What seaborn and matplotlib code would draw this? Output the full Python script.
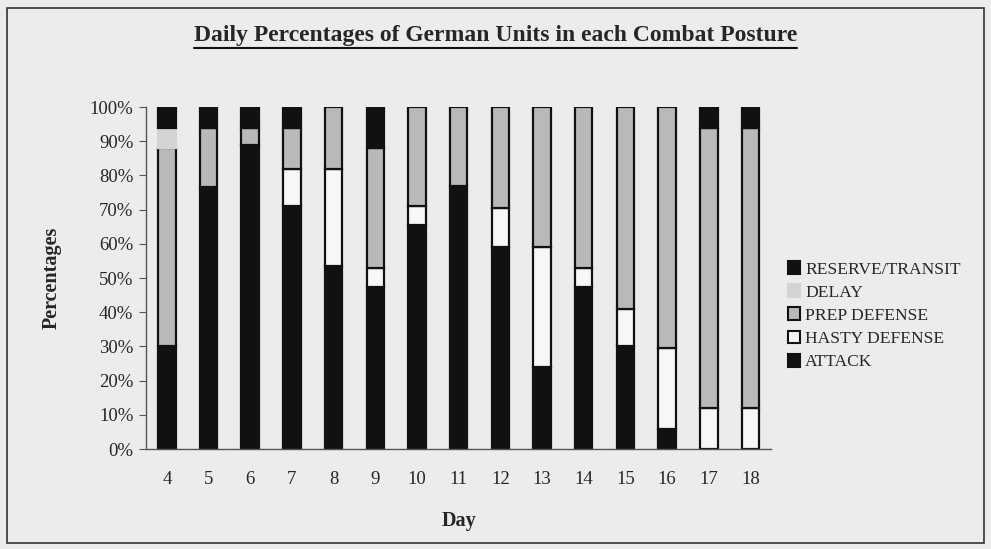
import numpy as np
import pandas as pd
import matplotlib
matplotlib.use('Agg')
import matplotlib.pyplot as plt
import matplotlib.patches as mpatches
from matplotlib.lines import Line2D
import seaborn as sns

# Data (percent of units per posture)
days = ['4', '5', '6', '7', '8', '9', '10', '11', '12', '13', '14', '15', '16', '17', '18']
attack = [30, 76.5, 89, 71, 53.5, 47.5, 65.5, 77, 59, 24, 47.5, 30, 6, 0, 0]
hasty_defense = [0, 0, 0, 11, 28.5, 5.5, 5.5, 0, 11.5, 35, 5.5, 11, 23.5, 12, 12]
prep_defense = [58, 17.5, 5, 12, 18, 35, 29, 23, 29.5, 41, 47, 59, 70.5, 82, 82]
delay = [6, 0, 0, 0, 0, 0, 0, 0, 0, 0, 0, 0, 0, 0, 0]
reserve_transit = [6, 6, 6, 6, 0, 12, 0, 0, 0, 0, 0, 0, 0, 6, 6]

layers = [
    ('ATTACK', attack, '#111111', '#111111'),
    ('HASTY DEFENSE', hasty_defense, '#f7f7f7', '#111111'),
    ('PREP DEFENSE', prep_defense, '#b9b9b9', '#111111'),
    ('DELAY', delay, '#d4d4d4', '#d4d4d4'),
    ('RESERVE/TRANSIT', reserve_transit, '#111111', '#111111'),
]

sns.set_style('white')
plt.rcParams['font.family'] = ['Liberation Serif', 'DejaVu Serif']

bg = '#ececec'
fig = plt.figure(figsize=(9.91, 5.49), dpi=100, facecolor=bg)
ax = fig.add_axes([0.1473, 0.182, 0.631, 0.623])
ax.set_facecolor(bg)

bottom = np.zeros(len(days))
for name, vals, fc, ec in layers:
    v = np.array(vals, dtype=float) / 100
    df = pd.DataFrame({'day': days, 'val': np.where(v > 0, v, np.nan), 'bottom': bottom})
    df = df.dropna()
    sns.barplot(data=df, x='day', y='val', order=days, bottom=df['bottom'].values,
                color=fc, edgecolor=ec, linewidth=1.6, width=0.42,
                saturation=1, ax=ax)
    bottom = bottom + v

ax.set_ylim(0, 1)
ax.set_xlim(-0.5, len(days) - 0.5)
ax.set_yticks(np.arange(0, 1.01, 0.1))
ax.set_yticklabels([f'{int(round(t * 100))}%' for t in np.arange(0, 1.01, 0.1)], fontsize=13.5)
ax.set_xticks(range(len(days)))
ax.set_xticklabels(days, fontsize=13.5)
ax.set_xticks(np.arange(-0.5, len(days), 1), minor=True)
ax.tick_params(axis='x', which='major', length=0, pad=16)
ax.tick_params(axis='x', which='minor', length=5, direction='in', color='#555555')
ax.tick_params(axis='y', length=5, direction='out', color='#555555', left=True, pad=4)
for s in ['top', 'right']:
    ax.spines[s].set_visible(False)
for s in ['left', 'bottom']:
    ax.spines[s].set_color('#555555')
    ax.spines[s].set_linewidth(1)

ax.set_xlabel('Day', fontsize=14.5, fontweight='bold', labelpad=16)
ax.set_ylabel('Percentages', fontsize=14.5, fontweight='bold', labelpad=20)

# title with underline
title = fig.text(0.5, 0.935, 'Daily Percentages of German Units in each Combat Posture',
                 ha='center', va='center', fontsize=17, fontweight='bold')
fig.canvas.draw()
bb = title.get_window_extent().transformed(fig.transFigure.inverted())
fig.add_artist(Line2D([bb.x0, bb.x1], [bb.y0 - 0.003, bb.y0 - 0.003],
                      transform=fig.transFigure, color='#111111', lw=1.5))

# legend
handles = [mpatches.Patch(facecolor=fc, edgecolor=ec, linewidth=1.5, label=name)
           for name, vals, fc, ec in layers[::-1]]
fig.legend(handles=handles, loc='center left', bbox_to_anchor=(0.779, 0.425),
           frameon=False, fontsize=12.6, handlelength=0.7, handleheight=0.75,
           handletextpad=0.3, labelspacing=0.38)

# outer frame
fig.add_artist(mpatches.Rectangle((0.007, 0.011), 0.986, 0.975, transform=fig.transFigure,
                                  fill=False, edgecolor='#333333', linewidth=1.2))

fig.savefig('out.png', dpi=100, facecolor=bg)
